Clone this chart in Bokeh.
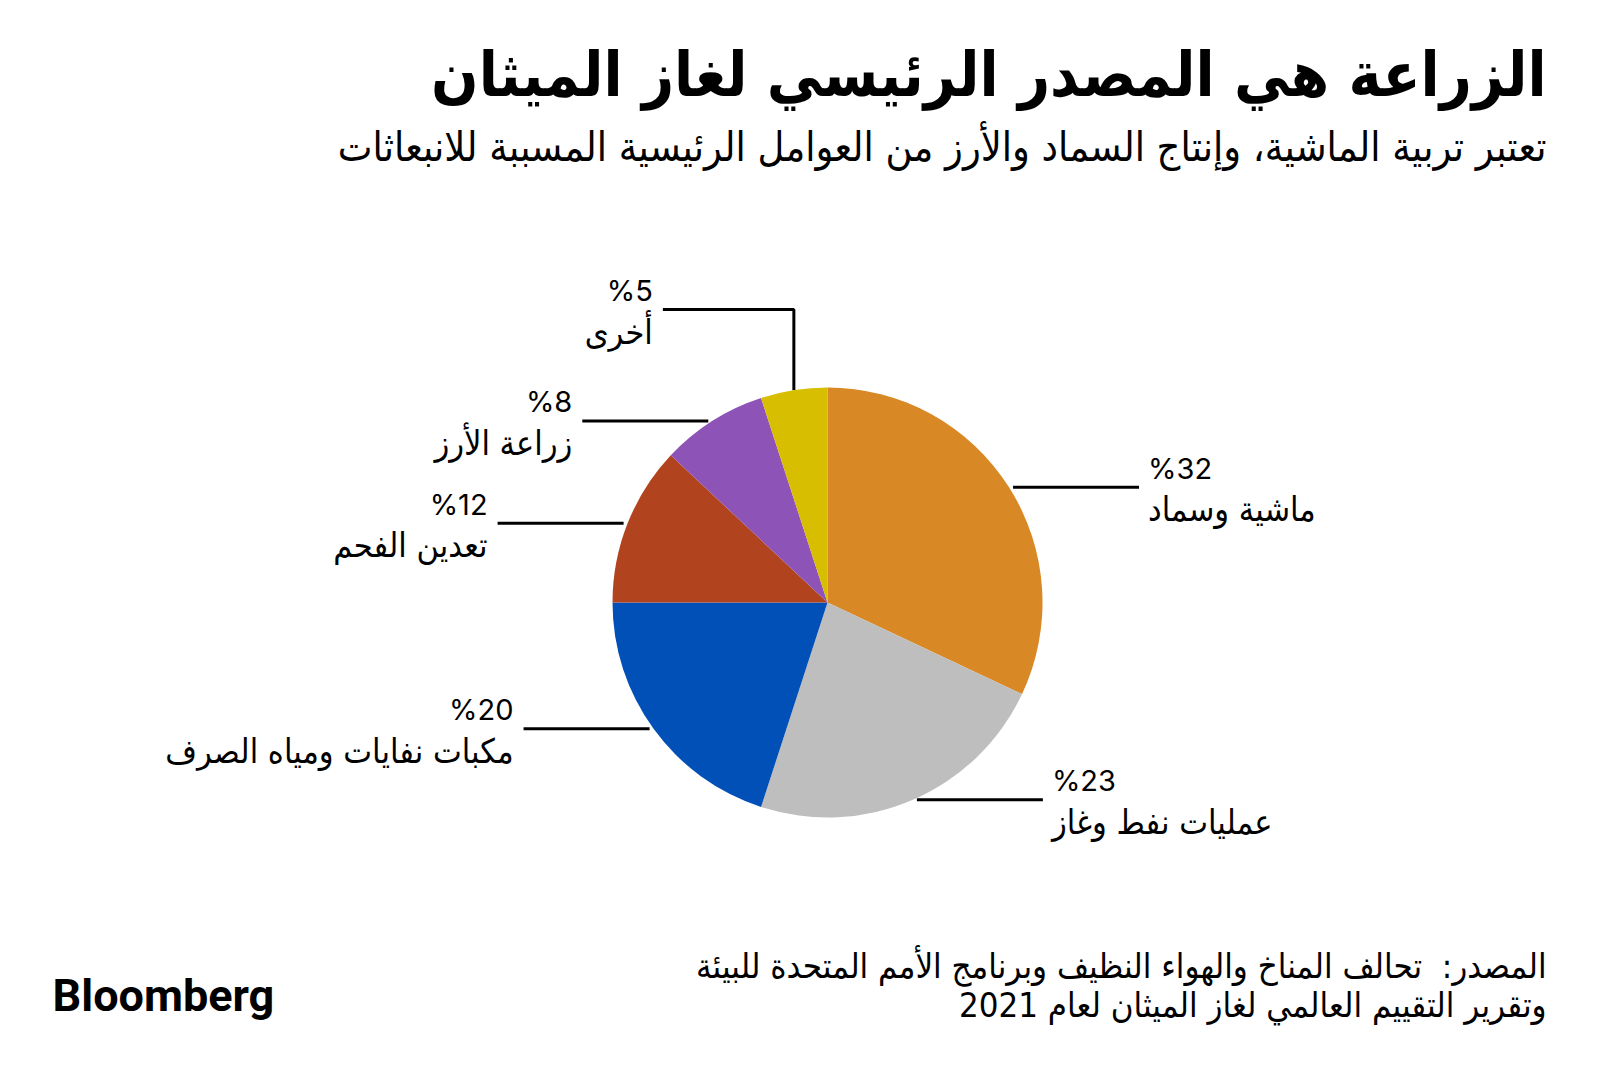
import math
from bokeh.plotting import figure
from bokeh.models import Range1d
from bokeh.core.properties import value
from bokeh.embed import file_html
from bokeh.resources import INLINE

# ---- data ----
categories = ["ماشية وسماد", "عمليات نفط وغاز", "مكبات نفايات ومياه الصرف",
              "تعدين الفحم", "زراعة الأرز", "أخرى"]
values = [32, 23, 20, 12, 8, 5]
pct_labels = ["%32", "%23", "%20", "%12", "%8", "%5"]
colors = ["#D98826", "#BEBEBE", "#0050B8", "#B1441F", "#8E53B6", "#D7BE00"]

title = "الزراعة هي المصدر الرئيسي لغاز الميثان"
subtitle = "تعتبر تربية الماشية، وإنتاج السماد والأرز من العوامل الرئيسية المسببة للانبعاثات"
source1 = "المصدر:\u00a0 تحالف المناخ والهواء النظيف وبرنامج الأمم المتحدة للبيئة"
source2 = "وتقرير التقييم العالمي لغاز الميثان لعام 2021"

AR = "DejaVu Sans Condensed"
NUM = "Inter"

W, H = 1596, 1072
TDY = 15  # empirical baseline correction for text


def Y(y):  # page pixel row -> data y
    return H - y


def TY(y):  # desired text baseline row -> data y
    return H - (y - TDY)


p = figure(width=W, height=H, x_range=Range1d(0, W), y_range=Range1d(0, H),
           output_backend="svg", toolbar_location=None,
           x_axis_type=None, y_axis_type=None, min_border=0)
p.outline_line_color = None
p.grid.visible = False
p.background_fill_color = "white"
p.border_fill_color = "white"

# ---- pie ----
cx, cy, R = 827, Y(602), 215
total = float(sum(values))
starts, ends, mids = [], [], []
cum = 0.0
for v in values:
    a0 = cum / total
    a1 = (cum + v) / total
    cum += v
    starts.append(math.pi / 2 - 2 * math.pi * a1)
    ends.append(math.pi / 2 - 2 * math.pi * a0)
    mids.append(2 * math.pi * (a0 + a1) / 2)

L = 126
lx, ly = [], []
tx, ty_num, ty_cat, aligns = [], [], [], []
for th in mids:
    ex = cx + R * math.sin(th)
    ey = cy + R * math.cos(th)
    s = 1 if math.sin(th) > 0 else -1
    if abs(math.sin(th)) < 0.3:
        top = Y(309)
        xs = [ex, ex, ex - 131]
        ys = [ey, top, top]
        s = -1
    else:
        xs = [ex + 4 * s, ex + 4 * s + L * s]
        ys = [ey, ey]
    end_x, end_y = xs[-1], ys[-1]
    lx.append(xs)
    ly.append(ys)
    gap = 9 if s > 0 else -10
    tx.append(end_x + gap)
    ty_num.append(end_y + 4 + TDY)
    ty_cat.append(end_y - 37 + TDY)
    aligns.append("left" if s > 0 else "right")

p.multi_line(lx, ly, line_color="black", line_width=3)
p.wedge(x=cx, y=cy, radius=R, start_angle=starts, end_angle=ends,
        fill_color=colors, line_color=None)

p.text(x=tx, y=ty_num, text=pct_labels, text_align=aligns,
       text_baseline="alphabetic", text_font=value(NUM),
       text_font_size=value("29px"), text_color="black")
p.text(x=tx, y=ty_cat, text=categories, text_align=aligns,
       text_baseline="alphabetic", text_font=value(AR),
       text_font_size=value("34px"), text_color="black")

# ---- titles ----
p.text(x=[1546], y=[TY(89)], text=[title], text_align="right",
       text_baseline="alphabetic", text_font=value(AR), text_font_style="bold",
       text_font_size=value("62px"), text_color="black")
p.text(x=[1546], y=[TY(161)], text=[subtitle], text_align="right",
       text_baseline="alphabetic", text_font=value(AR),
       text_font_size=value("41px"), text_color="black")

# ---- source & logo ----
p.text(x=[1546, 1546], y=[TY(980), TY(1019)], text=[source1, source2], text_align="right",
       text_baseline="alphabetic", text_font=value(AR),
       text_font_size=value("34.5px"), text_color="black")
p.text(x=[52], y=[TY(1010)], text=["Bloomberg"], text_align="left",
       text_baseline="alphabetic", text_font=value("Roboto"), text_font_style="bold",
       text_font_size=value("45px"), text_color="black")

open("out.html", "w").write(file_html(p, INLINE))
